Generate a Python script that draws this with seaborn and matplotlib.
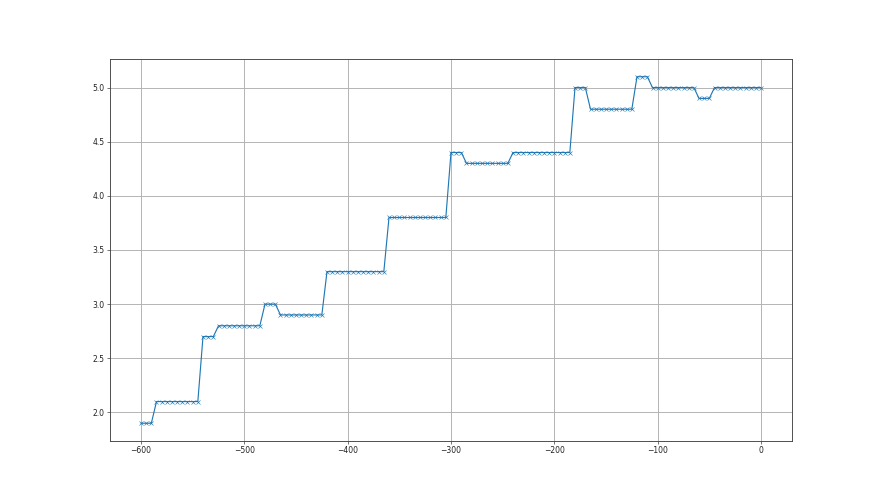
import matplotlib
matplotlib.use("Agg")
import matplotlib.pyplot as plt
import seaborn as sns
import pandas as pd

x_values = list(range(-600, 5, 5))
y_values = (
    [1.9] * 3 + [2.1] * 9 + [2.7] * 3 + [2.8] * 9 + [3.0] * 3 + [2.9] * 9
    + [3.3] * 12 + [3.8] * 12 + [4.4] * 3 + [4.3] * 9 + [4.4] * 12
    + [5.0] * 3 + [4.8] * 9 + [5.1] * 3 + [5.0] * 9 + [4.9] * 3 + [5.0] * 10
)
x_ticks = [-600, -500, -400, -300, -200, -100, 0]
y_ticks = [2.0, 2.5, 3.0, 3.5, 4.0, 4.5, 5.0]

df = pd.DataFrame({"x": x_values, "y": y_values})

sns.set_style("ticks")
plt.rcParams["font.family"] = ["DejaVu Sans"]

fig, ax = plt.subplots(figsize=(16, 9), dpi=55)
sns.lineplot(data=df, x="x", y="y", ax=ax, marker="x", color="#1f77b4",
             linewidth=1.5, markersize=6, markeredgewidth=0.8,
             markeredgecolor="#1f77b4", alpha=1.0)
ax.set_xticks(x_ticks)
ax.set_yticks(y_ticks)
ax.set_xlabel("")
ax.set_ylabel("")
ax.grid(True, color="#b0b0b0", linewidth=1.2)
for s in ax.spines.values():
    s.set_color("#444444")
    s.set_linewidth(1.2)
ax.tick_params(colors="#222222", labelsize=10, length=4)
fig.subplots_adjust(left=0.125, right=0.9, top=0.88, bottom=0.11)
fig.savefig("out.png", dpi=55)
